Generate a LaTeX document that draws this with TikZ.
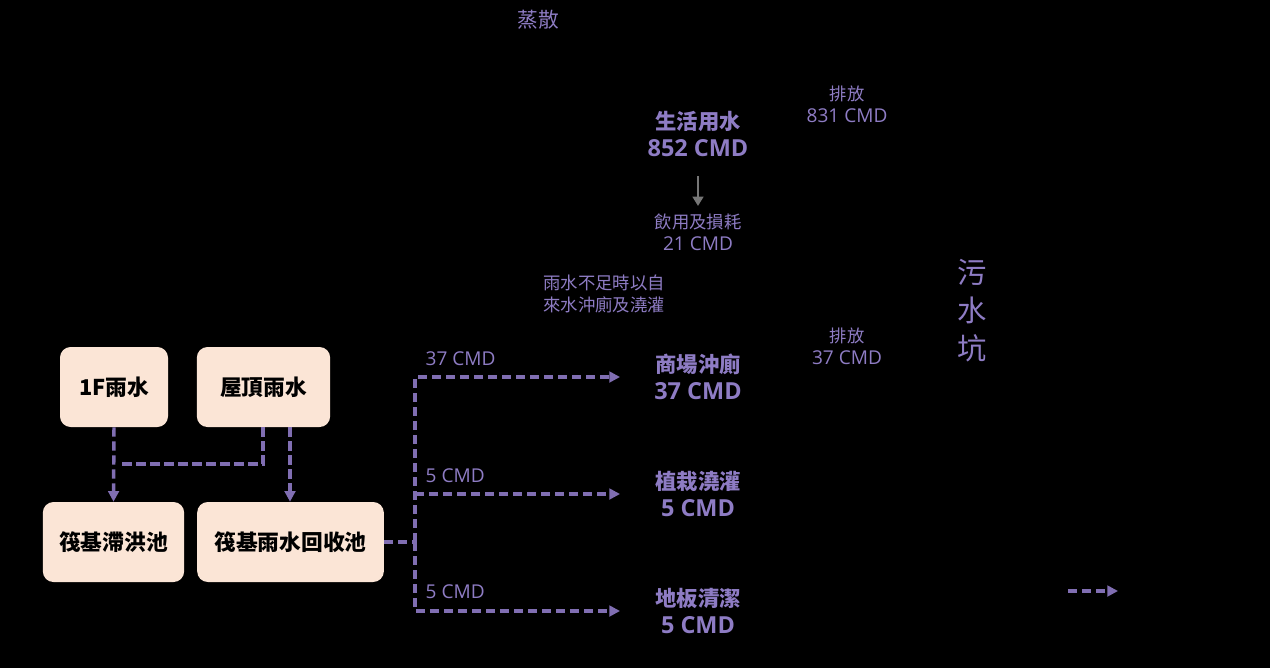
\documentclass[tikz,border=0pt]{standalone}
\usepackage{fontspec}
\setmainfont{Noto Sans CJK TC}
\newfontfamily\latinfont[Scale=1.1]{Open Sans}
\newcommand{\cmd}[1]{{\latinfont #1 CMD}}
\usetikzlibrary{arrows.meta}
\definecolor{flowpurple}{RGB}{128,110,178}
\definecolor{labelpurple}{RGB}{142,124,196}
\definecolor{boxpeach}{RGB}{251,229,214}
\definecolor{lossgray}{RGB}{118,118,118}
\begin{document}
\begin{tikzpicture}[x=0.75pt,y=-0.75pt,
  tank/.style={draw=none,fill=boxpeach,rounded corners=8pt,font=\fontsize{16.3}{18}\selectfont\bfseries,text=black},
  use/.style={font=\fontsize{16}{20}\selectfont\bfseries,text=labelpurple,align=center},
  note/.style={font=\fontsize{13}{16.5}\selectfont,text=labelpurple,align=center},
  pipe/.style={draw=flowpurple,line width=2.6pt,dash pattern=on 7pt off 3.5pt},
  flow/.style={pipe,-{Triangle[length=8pt,width=8pt]}}]
  \fill[black] (0,0) rectangle (1270,668);
  \useasboundingbox (0,0) rectangle (1270,668);

  % 雨水收集
  \node[tank,minimum width=81pt,minimum height=60pt] (f1) at (114,387) {1F雨水};
  \node[tank,minimum width=100pt,minimum height=60pt] (roof) at (263.5,387) {屋頂雨水};
  \node[tank,minimum width=106pt,minimum height=60pt] (flood) at (113.5,542) {筏基滯洪池};
  \node[tank,minimum width=140pt,minimum height=60pt] (reuse) at (290.5,542) {筏基雨水回收池};

  \coordinate (j1) at (118,464);
  \coordinate (trunk) at (415,542);
  \draw[flow] (f1.south) -- (flood.north);
  \draw[pipe] (roof.south -| 263,0) |- (j1);
  \draw[flow] (roof.south -| 290,0) -- (reuse.north -| 290,0);

  % 用途
  \node[use] (toilet) at (698,377) {商場沖廁\\\cmd{37}};
  \node[use] (plant) at (698,494) {植栽澆灌\\\cmd{5}};
  \node[use] (floor) at (698,611) {地板清潔\\\cmd{5}};
  \coordinate (t1) at (620,377);
  \coordinate (t2) at (620,494);
  \coordinate (t3) at (620,611);

  \draw[pipe] (reuse.east) -- (trunk);
  \draw[flow] (trunk) |- (t1);
  \draw[flow] (trunk) |- (t3);
  \draw[flow] (trunk |- t2) -- (t2);
  \node[note,anchor=west] (q1) at (421,359) {\cmd{37}};
  \node[note,anchor=west] (q2) at (421,476) {\cmd{5}};
  \node[note,anchor=west] (q3) at (421,592) {\cmd{5}};

  % 生活用水
  \node[note] (evap) at (538,20) {\fontsize{15.5}{18}\selectfont 蒸散};
  \node[use] (domestic) at (698,134) {生活用水\\\cmd{852}};
  \node[note] (loss) at (698,232) {飲用及損耗\\\cmd{21}};
  \draw[draw=lossgray,line width=2.2pt,-{Triangle[length=7pt,width=8pt]}] (698,176) -- (698,206);
  \node[note,align=left] (backup) at (604,294) {雨水不足時以自\\來水沖廁及澆灌};
  \node[note] (out1) at (847,104) {排放\\\cmd{831}};
  \node[note] (out2) at (847,346) {排放\\\cmd{37}};
  \node[font=\fontsize{22}{28.5}\selectfont,text=labelpurple,align=center] (pit) at (972,311) {污\\水\\坑};

  % 圖例
  \coordinate (l1) at (1068,591);
  \coordinate (l2) at (1118,591);
  \draw[flow] (l1) -- (l2);
\end{tikzpicture}
\end{document}
